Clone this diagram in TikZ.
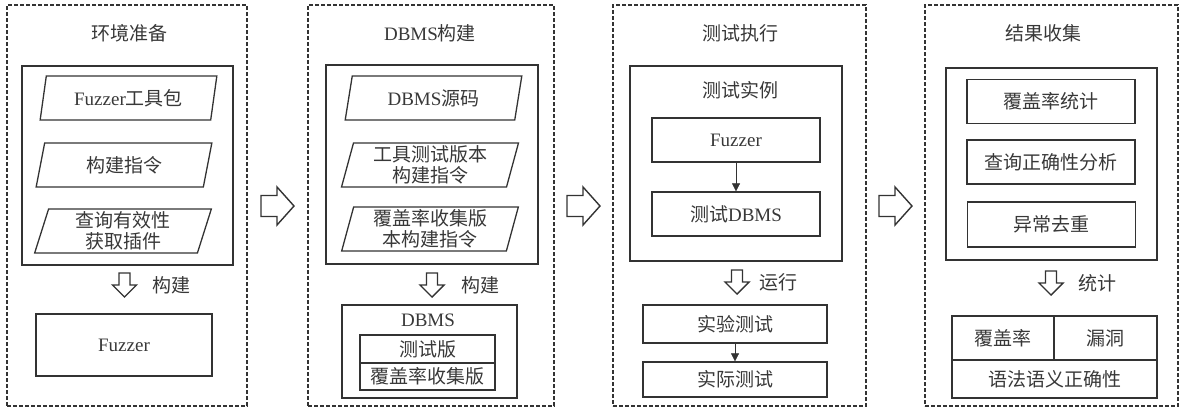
\documentclass[tikz,border=0pt]{standalone}
\usepackage{fontspec}
\setmainfont{Liberation Serif}
\newfontfamily\cjk{Noto Sans CJK SC}
\usetikzlibrary{shapes.geometric,arrows.meta,positioning,calc}
\definecolor{ink}{HTML}{383838}
\definecolor{rule}{HTML}{333333}
\newcommand{\en}[1]{{\rmfamily #1}}

\tikzset{
  every node/.style={font=\cjk\fontsize{19}{21}\selectfont, text=ink},
  stage/.style={draw=rule, line width=1.3pt, dash pattern=on 4pt off 2pt, minimum height=401pt},
  group/.style={draw=rule, line width=1.4pt, inner sep=0pt},
  item/.style={draw=rule, line width=1.3pt, minimum width=168pt, minimum height=44pt, inner sep=0pt},
  iobox/.style={trapezium, trapezium left angle=77, trapezium right angle=103,
    trapezium stretches=true, draw=rule, line width=1.3pt,
    minimum width=177pt, minimum height=44pt, inner sep=0pt, align=center},
  steplabel/.style={inner sep=0pt},
  flow/.style={draw=rule, line width=0.6pt, -{Triangle[width=8pt,length=8pt]}},
  hollow/.style={draw=rule, line width=1.4pt, line join=miter},
  % hollow block arrows
  pics/nextstage/.style={code={
    \draw[hollow] (-16.5,-10.5) -- (-0.5,-10.5) -- (-0.5,-19) -- (16.5,0)
      -- (-0.5,19) -- (-0.5,10.5) -- (-16.5,10.5) -- cycle;}},
  pics/godown/.style={code={
    \draw[hollow] (-5.5,-12) -- (5.5,-12) -- (5.5,0) -- (12,0) -- (0,12)
      -- (-12,0) -- (-5.5,0) -- cycle;}},
}

\begin{document}
\begin{tikzpicture}[x=1pt,y=-1pt]
\useasboundingbox (0,0) rectangle (1183,410);

% stage 1: environment
\node[stage, minimum width=240pt] (envstage) at (127,205.5) {};
\node (envtitle) at (129,33) {环境准备};
\node[group, minimum width=211pt, minimum height=199pt] (envgroup) at (127.5,165.5) {};
\node[iobox] (fuzzkit) at (128.5,98) {\en{Fuzzer}工具包};
\node[iobox] (buildcmd) at (124,165) {构建指令};
\node[iobox] (plugin) at (123,231) {查询有效性\\获取插件};
\coordinate (envdown) at (124.5,285);
\pic at (envdown) {godown};
\node[steplabel, right=28pt of envdown] (envdownlabel) {构建};
\node[item, minimum width=176pt, minimum height=62pt] (fuzzer) at (124,345) {\en{Fuzzer}};

% stage 2: DBMS build
\node[stage, minimum width=246pt] (buildstage) at (431,205.5) {};
\node (buildtitle) at (430,33) {\en{DBMS}构建};
\node[group, minimum width=212pt, minimum height=199pt] (buildgroup) at (432,164.5) {};
\node[iobox] (source) at (433.5,98) {\en{DBMS}源码};
\node[iobox] (toolcmd) at (430,165) {工具测试版本\\构建指令};
\node[iobox] (covcmd) at (430,229) {覆盖率收集版\\本构建指令};
\coordinate (builddown) at (432,285);
\pic at (builddown) {godown};
\node[steplabel, right=29pt of builddown] (builddownlabel) {构建};
\node[group, minimum width=175pt, minimum height=93pt] (dbms) at (429.5,351.5) {};
\node (dbmstitle) at (428,320) {\en{DBMS}};
\node[item, minimum width=135pt, minimum height=28pt] (testver) at (427.5,349) {测试版};
\node[item, minimum width=135pt, minimum height=27pt] (covver) at (427.5,376.5) {覆盖率收集版};

% stage 3: test run
\node[stage, minimum width=253pt] (runstage) at (739.5,205.5) {};
\node (runtitle) at (740,33) {测试执行};
\node[group, minimum width=212pt, minimum height=195pt] (runcase) at (736,163.5) {};
\node (casetitle) at (740,90) {测试实例};
\node[item] (runfuzzer) at (736,140) {\en{Fuzzer}};
\node[item] (testdbms) at (736,214) {测试\en{DBMS}};
\draw[flow] (runfuzzer) -- (testdbms);
\coordinate (rundown) at (737,282);
\pic at (rundown) {godown};
\node[steplabel, right=22pt of rundown] (rundownlabel) {运行};
\node[item, minimum width=184pt, minimum height=38pt] (exptest) at (735,324) {实验测试};
\node[item, minimum width=184pt, minimum height=35pt] (realtest) at (735,379.5) {实际测试};
\draw[flow] (exptest) -- (realtest);

% stage 4: results
\node[stage, minimum width=253pt] (collectstage) at (1051.5,205.5) {};
\node (collecttitle) at (1043,33) {结果收集};
\node[group, minimum width=211pt, minimum height=192pt] (collectgroup) at (1051.5,164) {};
\node[item] (covstat) at (1051,101.5) {覆盖率统计};
\node[item] (correct) at (1051,162) {查询正确性分析};
\node[item, minimum height=45pt] (dedup) at (1051.5,224.5) {异常去重};
\coordinate (collectdown) at (1051,283);
\pic at (collectdown) {godown};
\node[steplabel, right=27pt of collectdown] (collectdownlabel) {统计};
\node[item, minimum width=102pt, minimum height=44pt] (covres) at (1003,338) {覆盖率};
\node[item, minimum width=103pt, minimum height=44pt] (bugres) at (1105.5,338) {漏洞};
\node[item, minimum width=205pt, minimum height=38pt] (semres) at (1054.5,379) {语法语义正确性};

% hollow arrows between stages
\coordinate (envtobuild) at ($(envstage.east)!.5!(buildstage.west)$);
\coordinate (buildtorun) at ($(buildstage.east)!.5!(runstage.west)$);
\coordinate (runtocollect) at ($(runstage.east)!.5!(collectstage.west)$);
\foreach \gap in {envtobuild,buildtorun,runtocollect}
  \pic at ([yshift=-0.5pt]\gap) {nextstage};
\end{tikzpicture}
\end{document}
